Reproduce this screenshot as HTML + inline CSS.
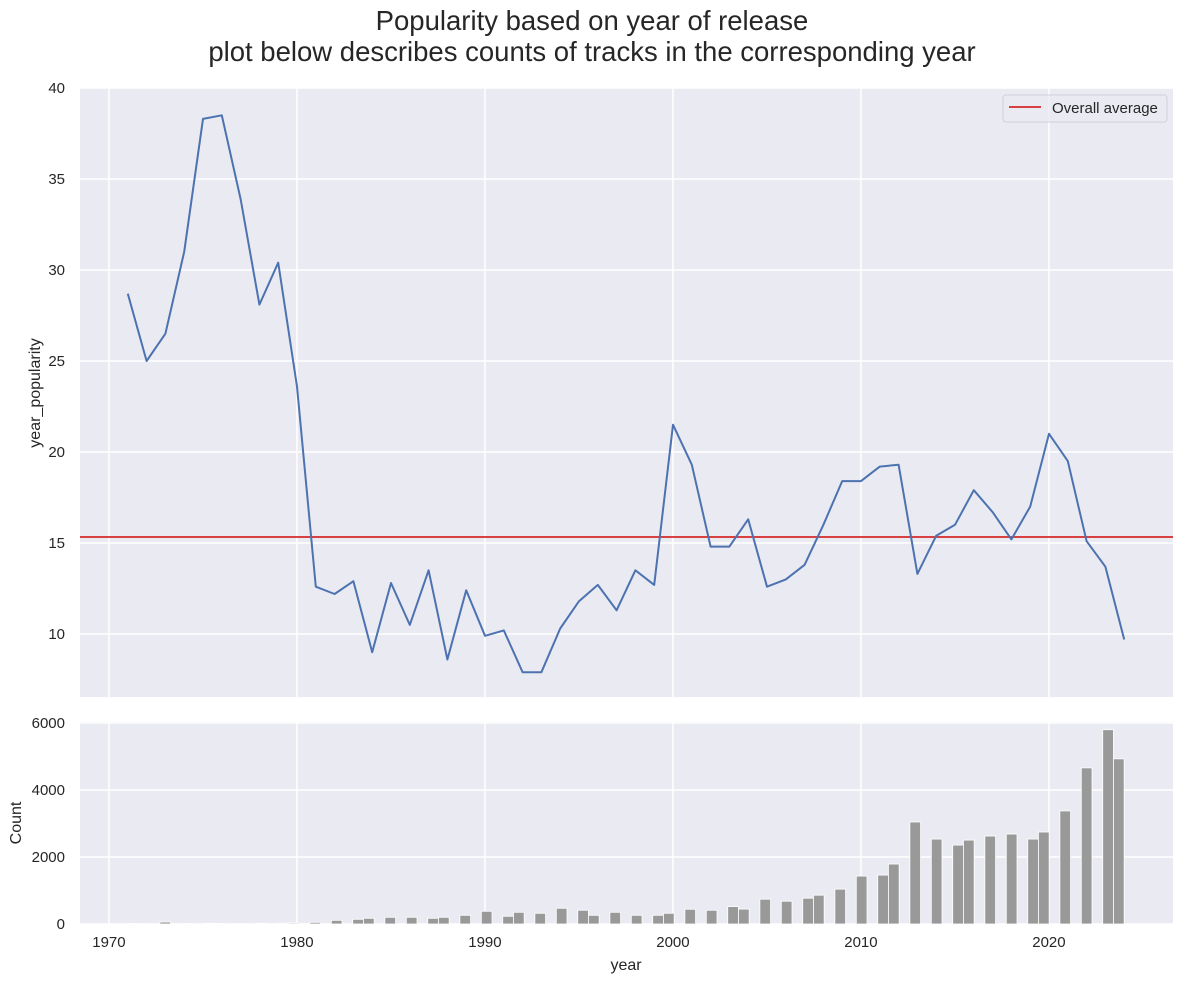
<!DOCTYPE html>
<html><head><meta charset="utf-8"><style>
body{margin:0;background:#fff;}
text{font-family:"Liberation Sans",sans-serif;fill:#262626;}
</style></head><body>
<svg id="fig" width="1184" height="982" xmlns="http://www.w3.org/2000/svg">
<text x="592" y="30" font-size="27.5" text-anchor="middle">Popularity based on year of release</text>
<text x="592" y="61" font-size="27.5" text-anchor="middle">plot below describes counts of tracks in the corresponding year</text>
<rect x="80" y="88" width="1093" height="609" fill="#eaeaf2"/>
<rect x="80" y="722" width="1093" height="202" fill="#eaeaf2"/>
<g id="grid"></g><g id="marks"></g><g id="ticks"></g>
<text transform="translate(40,393) rotate(-90)" font-size="16" text-anchor="middle">year_popularity</text>
<text transform="translate(21,823) rotate(-90)" font-size="16" text-anchor="middle">Count</text>
<text x="626" y="970" font-size="16" text-anchor="middle">year</text>
<g>
<rect x="1003" y="95" width="164" height="27" rx="3" fill="#eaeaf2" stroke="#d0d0d8" fill-opacity="0.8"/>
<line x1="1009" y1="107" x2="1041" y2="107" stroke="#d62728" stroke-width="1.8"/>
<text x="1052" y="113" font-size="15">Overall average</text>
</g>
</svg>
<script>
const years=[];for(let y=1971;y<=2024;y++)years.push(y);
const popularity=[28.7,25.0,26.5,31.0,38.3,38.5,33.9,28.1,30.4,23.6,12.6,12.2,12.9,9.0,12.8,10.5,13.5,8.6,12.4,9.9,10.2,7.9,7.9,10.3,11.8,12.7,11.3,13.5,12.7,21.5,19.3,14.8,14.8,16.3,12.6,13.0,13.8,16.0,18.4,18.4,19.2,19.3,13.3,15.4,16.0,17.9,16.7,15.2,17.0,21.0,19.5,15.1,13.7,9.7];
const counts=[15,10,60,15,20,15,15,20,25,30,50,110,140,170,200,200,170,200,260,380,230,350,320,470,410,260,350,260,260,320,440,410,520,445,740,680,770,860,1040,1430,1460,1790,3045,2535,2355,2505,2625,2685,2535,2745,3375,4660,5800,4930];
const overallAvg=15.33;
const xTicks=[1970,1980,1990,2000,2010,2020];
const yTicksTop=[10,15,20,25,30,35,40];
const yTicksBottom=[0,2000,4000,6000];
const NS="http://www.w3.org/2000/svg";
const X=v=>80+(v-1968.46)*18.8;
const YT=v=>88+(40-v)*18.2;
const YB=v=>924-v*(201/6000);
function mk(tag,attrs,parent){const e=document.createElementNS(NS,tag);for(const k in attrs)e.setAttribute(k,attrs[k]);document.getElementById(parent).appendChild(e);return e;}
xTicks.forEach(t=>{
 let g=mk('line',{x1:X(t),x2:X(t),y1:88,y2:697,stroke:'#fff','stroke-width':1.5},'grid');
 
 
 g=mk('line',{x1:X(t),x2:X(t),y1:722,y2:924,stroke:'#fff','stroke-width':1.5},'grid');
 
 
 const l=mk('text',{x:X(t),y:947,'font-size':15,'text-anchor':'middle'},'ticks');l.textContent=t;
 
 
});
yTicksTop.forEach(t=>{
 const g=mk('line',{x1:80,x2:1173,y1:YT(t),y2:YT(t),stroke:'#fff','stroke-width':1.5},'grid');
 
 
 const l=mk('text',{x:65,y:YT(t)+5,'font-size':15,'text-anchor':'end'},'ticks');l.textContent=t;
 
 
});
yTicksBottom.forEach(t=>{
 const g=mk('line',{x1:80,x2:1173,y1:YB(t),y2:YB(t),stroke:'#fff','stroke-width':1.5},'grid');
 
 
 const l=mk('text',{x:65,y:YB(t)+5,'font-size':15,'text-anchor':'end'},'ticks');l.textContent=t;
 
 
});
const avg=mk('line',{x1:80,x2:1173,y1:YT(overallAvg),y2:YT(overallAvg),stroke:'#d62728','stroke-width':1.8},'marks');


const pts=years.map((y,i)=>X(y).toFixed(1)+','+YT(popularity[i]).toFixed(1)).join(' ');
const pl=mk('polyline',{points:pts,fill:'none',stroke:'#4c72b0','stroke-width':2,'stroke-linejoin':'round'},'marks');


const nb=93,y0=years[0],bw=(years[years.length-1]-y0)/nb;
years.forEach((y,i)=>{
 const b=Math.min(nb-1,Math.floor((y-y0)/bw+1e-9));
 const x0=X(y0+b*bw),x1=X(y0+(b+1)*bw);
 const r=mk('rect',{x:x0,y:YB(counts[i]),width:x1-x0,height:YB(0)-YB(counts[i]),fill:'#999',stroke:'#fff','stroke-width':0.8},'marks');
 
 
});
</script>
</body></html>
